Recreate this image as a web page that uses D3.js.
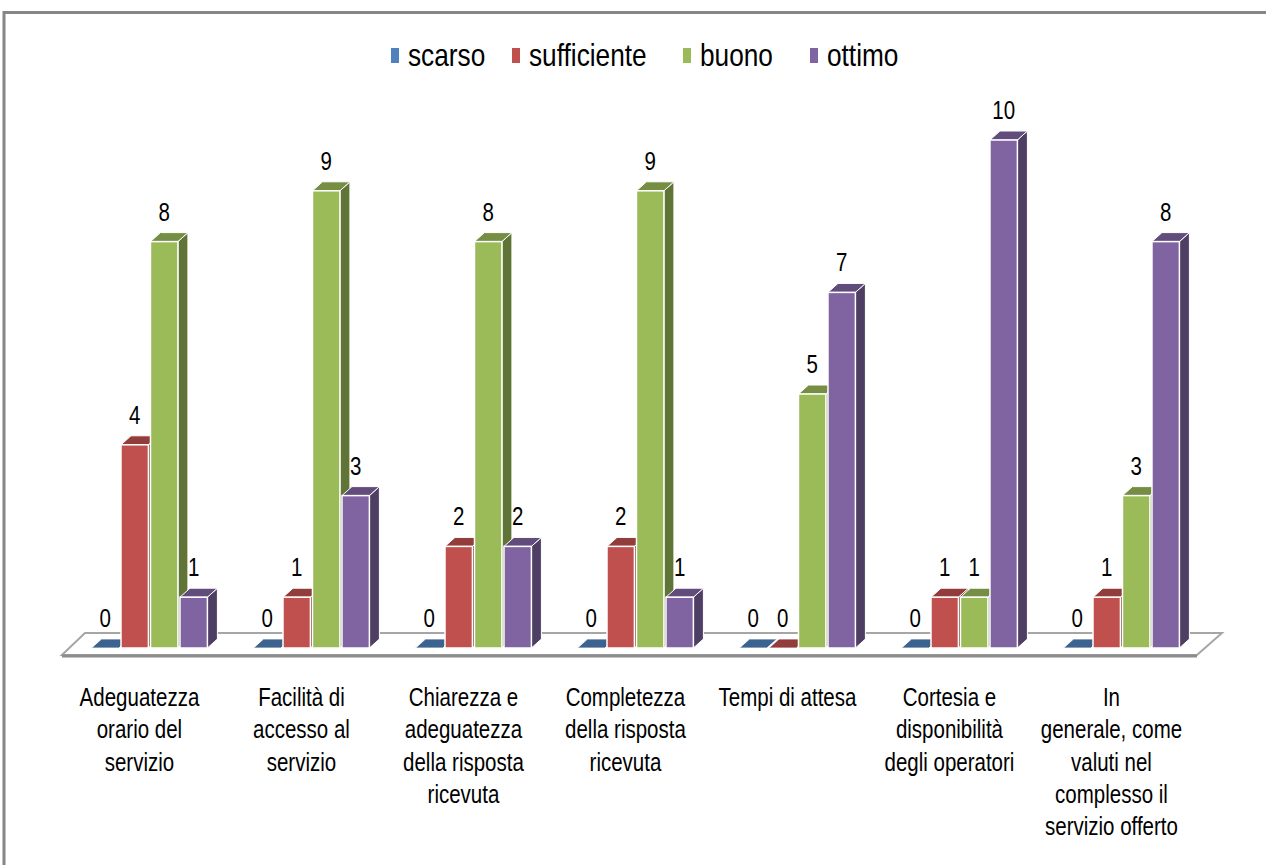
<!DOCTYPE html>
<html><head><meta charset="utf-8">
<script src="https://cdn.jsdelivr.net/npm/d3@7"></script>
<style>body{margin:0;background:#fff;overflow:hidden}</style>
</head><body><svg id="c" width="1266" height="865"></svg>
<script>
const categories = [
  "Adeguatezza orario del servizio",
  "Facilità di accesso al servizio",
  "Chiarezza e adeguatezza della risposta ricevuta",
  "Completezza della risposta ricevuta",
  "Tempi di attesa",
  "Cortesia e disponibilità degli operatori",
  "In generale, come valuti nel complesso il servizio offerto"
];
const categoryLines = [
  ["Adeguatezza", "orario del", "servizio"],
  ["Facilità di", "accesso al", "servizio"],
  ["Chiarezza e", "adeguatezza", "della risposta", "ricevuta"],
  ["Completezza", "della risposta", "ricevuta"],
  ["Tempi di attesa"],
  ["Cortesia e", "disponibilità", "degli operatori"],
  ["In", "generale, come", "valuti nel", "complesso il", "servizio offerto"]
];
const seriesNames = ["scarso", "sufficiente", "buono", "ottimo"];
const scarso      = [0, 0, 0, 0, 0, 0, 0];
const sufficiente = [4, 1, 2, 2, 0, 1, 1];
const buono       = [8, 9, 8, 9, 5, 1, 3];
const ottimo      = [1, 3, 2, 1, 7, 10, 8];
const seriesColors = ["#4F81BD", "#C0504D", "#9BBB59", "#8064A2"];

const seriesValues = [scarso, sufficiente, buono, ottimo];
const svg = d3.select("#c");
const FONT = "'Liberation Sans', Arial, sans-serif";
const SX = 0.82;
const LEGEND_X = [391, 512, 683, 810];

function txt(g, x, y, s, size, anchor) {
  return g.append("text")
    .attr("transform", `translate(${x},${y}) scale(${SX},1)`)
    .attr("font-family", FONT).attr("font-size", size)
    .attr("text-anchor", anchor || "middle").attr("fill", "#000").text(s);
}

// frame
svg.append("path").attr("d", "M4,865 L4,12.5 L1266,12.5")
  .attr("fill", "none").attr("stroke", "#868686").attr("stroke-width", 3);

// scales
const x0 = d3.scaleBand().domain(categories).range([68.45, 1202.45])
  .paddingInner(0.2846).paddingOuter(0.1423);
const x1 = d3.scaleBand().domain(seriesNames).range([0, x0.bandwidth()]).paddingInner(0.07);
const y = d3.scaleLinear().domain([0, 10]).range([648, 140]);
const DX = 10, DY = -9;

// floor
const r = x0.range();
const y0 = y(0);
const floor = svg.append("g");
floor.append("path")
  .attr("d", `M${r[0]-6.5},${y0+7} L${r[0]+16.5},${y0-15} L${r[1]+19.5},${y0-15} L${r[1]-5.5},${y0+7} Z`)
  .attr("fill", "#fff").attr("stroke", "#A6A6A6").attr("stroke-width", 2);
floor.append("line").attr("x1", r[0]-6.5).attr("x2", r[1]-5.5).attr("y1", y0+8).attr("y2", y0+8)
  .attr("stroke", "#8C8C8C").attr("stroke-width", 3);

function shade(c, k) {
  const o = d3.rgb(c);
  return d3.rgb(o.r*k, o.g*k, o.b*k).formatHex();
}

const bars = svg.append("g");
categories.forEach((cat, ci) => {
  seriesNames.forEach((s, si) => {
    const v = seriesValues[si][ci];
    const c = seriesColors[si];
    const xl = x0(cat) + x1(s);
    const w = x1.bandwidth();
    const yt = y(v);
    const g = bars.append("g");
    if (v > 0) {
      g.append("path")
        .attr("d", `M${xl+w},${y0} L${xl+w},${yt} L${xl+w+DX},${yt+DY} L${xl+w+DX},${y0+DY} Z`)
        .attr("fill", shade(c, 0.62)).attr("stroke", "#fff").attr("stroke-width", 1);
      g.append("path")
        .attr("d", `M${xl},${yt} L${xl+w},${yt} L${xl+w+DX},${yt+DY} L${xl+DX},${yt+DY} Z`)
        .attr("fill", shade(c, 0.76)).attr("stroke", "#fff").attr("stroke-width", 1);
      g.append("rect").attr("x", xl).attr("y", yt).attr("width", w).attr("height", y0 - yt)
        .attr("fill", c).attr("stroke", "#fff").attr("stroke-width", 1.5);
    } else {
      g.append("path")
        .attr("d", `M${xl},${y0} L${xl+w},${y0} L${xl+w+DX},${y0+DY} L${xl+DX},${y0+DY} Z`)
        .attr("fill", shade(c, 0.76)).attr("stroke", "#fff").attr("stroke-width", 0.8);
    }
  });
});

// value labels
const labels = svg.append("g");
categories.forEach((cat, ci) => {
  seriesNames.forEach((s, si) => {
    const v = seriesValues[si][ci];
    const xc = x0(cat) + x1(s) + x1.bandwidth() / 2;
    txt(labels, xc, y(v) - 21, String(v), 25);
  });
});

// category labels
const cl = svg.append("g");
categories.forEach((cat, ci) => {
  const xc = x0(cat) + x0.bandwidth() / 2 - 10;
  categoryLines[ci].forEach((line, li) => {
    txt(cl, xc, 706 + li * 32.3, line, 25);
  });
});

// legend
const lg = svg.append("g");
seriesNames.forEach((s, i) => {
  const lx = LEGEND_X[i];
  lg.append("rect").attr("x", lx).attr("y", 48).attr("width", 8).attr("height", 15)
    .attr("fill", seriesColors[i]);
  txt(lg, lx + 17, 66, s, 32, "start");
});
</script>
</body></html>
